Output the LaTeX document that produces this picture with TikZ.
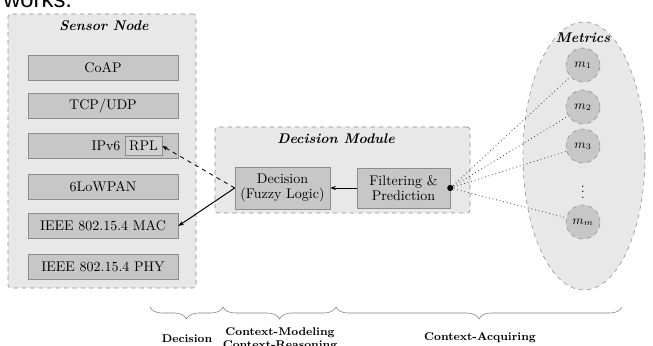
\documentclass[tikz,border=0pt]{standalone}
\usepackage{fontspec}
\newfontfamily\worksfont{Liberation Sans}
\usetikzlibrary{arrows.meta,decorations.pathreplacing,shapes.geometric}
\def\u{0.714pt}
\tikzset{
  outerbox/.style={draw=black!45, dashed, fill=black!9, rounded corners=2pt, inner sep=0pt},
  layerbox/.style={draw=black!45, fill=black!22, inner sep=0pt, minimum width={150*\u}, minimum height={25*\u}},
  procbox/.style={draw=black!45, fill=black!22, inner sep=0pt, align=center, font=\linespread{0.9}\selectfont},
  title/.style={font=\bfseries\itshape},
  metric/.style={circle, draw=black!45, dashed, fill=black!22, inner sep=0pt, minimum size={34*\u}, font=\small},
  bracelab/.style={font=\footnotesize\bfseries, align=center},
  mybrace/.style={draw=black!50, thin, decorate, decoration={brace, mirror, amplitude={12*\u}}},
  conn/.style={-{Stealth[length=4pt,width=3pt]}, line width=0.7pt},
  dconn/.style={-{Stealth[length=4pt,width=3pt]}, line width=0.6pt, dashed},
  dots/.style={dotted, line width=0.6pt, draw=black!70}
}
\begin{document}
\begin{tikzpicture}[x=\u, y=-\u]
\useasboundingbox (0,0) rectangle (653,346);
\begin{scope}
\clip (0,0) rectangle (653,346);
\node[font=\worksfont\fontsize{17}{17}\selectfont, anchor=base west, inner sep=0pt] (works) at (3,8) {works.};

% Sensor node
\node[outerbox, minimum width={188*\u}, minimum height={274*\u}] (sensor) at (102,151) {};
\node[title] (sensortitle) at (104,26) {Sensor Node};
\node[layerbox] (coap) at (103,68) {CoAP};
\node[layerbox] (tcp) at (103,106) {TCP/UDP};
\node[layerbox] (ipv6) at (103,146) {};
\node (ipv6txt) at (106,146) {IPv6};
\node[draw=black!45, fill=black!18, inner sep=0pt, minimum width={37*\u}, minimum height={19*\u}] (rpl) at (143.5,146) {RPL};
\node[layerbox] (lowpan) at (103,187) {6LoWPAN};
\node[layerbox] (mac) at (103,226) {IEEE 802.15.4 MAC};
\node[layerbox] (phy) at (103,267) {IEEE 802.15.4 PHY};

% Decision module
\node[outerbox, minimum width={255*\u}, minimum height={86*\u}] (dm) at (342.5,170) {};
\node[title] (dmtitle) at (336,139) {Decision Module};
\node[procbox, minimum width={95*\u}, minimum height={42*\u}] (dec) at (282.5,188) {Decision\\(Fuzzy Logic)};
\node[procbox, minimum width={93*\u}, minimum height={40*\u}] (filt) at (403.5,188) {Filtering \&\\Prediction};

% Metrics
\node[ellipse, draw=black!45, dashed, fill=black!9, minimum width={122*\u}, minimum height={268*\u}, inner sep=0pt] (metrics) at (584,156) {};
\node[title] (mtitle) at (583,38) {Metrics};
\node[metric] (m1) at (583,65) {$m_1$};
\node[metric] (m2) at (583,107) {$m_2$};
\node[metric] (m3) at (583,146) {$m_3$};
\node[font=\small] (vd) at (583,188) {$\vdots$};
\node[metric] (mm) at (583,222) {$m_m$};

% connectors
\draw[conn] (filt.west) -- (dec.east);
\draw[dconn] (dec.west) -- (rpl.east);
\draw[conn] (dec.west) -- (mac.east);
\coordinate (fdot) at (filt.east);
\foreach \m in {m1,m2,m3,mm} \draw[dots] (fdot) -- (\m);
\fill (fdot) circle (2.2pt);

% braces
\coordinate (b0) at (150,307);
\coordinate (b1) at (223,307);
\coordinate (b2) at (336,307);
\coordinate (b3) at (622,307);
\draw[mybrace] (b0) -- (b1);
\draw[mybrace] (b1) -- (b2);
\draw[mybrace] (b2) -- (b3);
\node[bracelab] (l1) at (187,339) {Decision};
\node[bracelab] (l2) at (280,339) {Context-Modeling\\Context-Reasoning};
\node[bracelab] (l3) at (480,338) {Context-Acquiring};
\end{scope}
\end{tikzpicture}
\end{document}
